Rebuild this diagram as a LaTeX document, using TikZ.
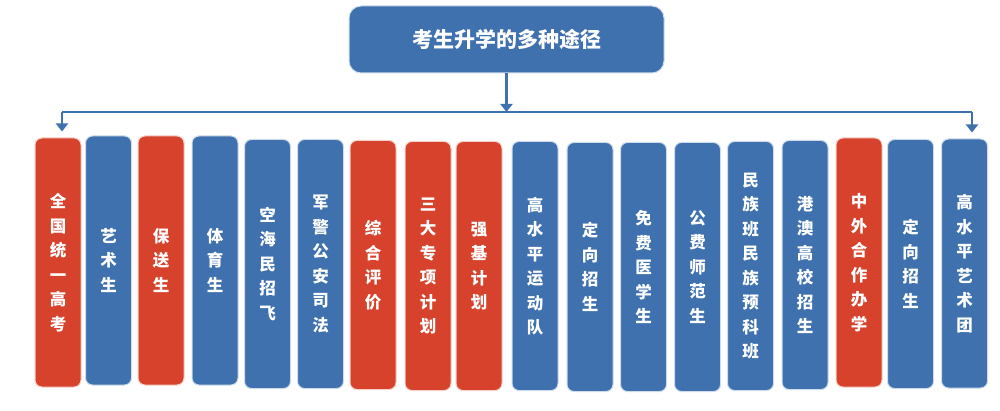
\documentclass[tikz,border=0pt]{standalone}
\usepackage{fontspec}
\newfontfamily\cjk{Noto Sans CJK SC}
\usetikzlibrary{arrows.meta}
\definecolor{rb}{RGB}{214,66,44}
\definecolor{bb}{RGB}{63,113,175}
\tikzset{
  col/.style={rounded corners=7pt, minimum width=46pt, minimum height=249pt, inner sep=0pt,
    text=white, font=\cjk\bfseries\fontsize{16.5}{24.5}\selectfont, align=center,
    draw=white!75!#1, line width=1pt, fill=#1},
  ttl/.style={rounded corners=12pt, minimum width=315pt, minimum height=67pt, inner sep=0pt,
    text=white, font=\cjk\bfseries\fontsize{21}{24}\selectfont,
    draw=white!75!bb, line width=1pt, fill=bb},
  conn/.style={draw=bb, line width=2.5pt},
  arr/.style={conn, -{Triangle[width=12pt,length=8pt]}}
}
\begin{document}
\begin{tikzpicture}[x=1pt,y=-1pt]
\useasboundingbox[fill=white] (0,0) rectangle (1000,411);
\node[ttl] (t) at (506.5,39.5) {考生升学的多种途径};
\node[col=rb] (c1) at (58,262.5) {全\\国\\统\\一\\高\\考};
\node[col=bb] (c2) at (108.5,260.5) {艺\\术\\生};
\node[col=rb] (c3) at (161,260.5) {保\\送\\生};
\node[col=bb] (c4) at (215,260.5) {体\\育\\生};
\node[col=bb] (c5) at (267.5,264) {空\\海\\民\\招\\飞};
\node[col=bb] (c6) at (320.5,264) {军\\警\\公\\安\\司\\法};
\node[col=rb] (c7) at (373,265) {综\\合\\评\\价};
\node[col=rb] (c8) at (428,266) {三\\大\\专\\项\\计\\划};
\node[col=rb] (c9) at (479,266) {强\\基\\计\\划};
\node[col=bb] (c10) at (535,266) {高\\水\\平\\运\\动\\队};
\node[col=bb] (c11) at (590,267) {定\\向\\招\\生};
\node[col=bb] (c12) at (643.5,267) {免\\费\\医\\学\\生};
\node[col=bb] (c13) at (697.5,267) {公\\费\\师\\范\\生};
\node[col=bb] (c14) at (750.5,266) {民\\族\\班\\民\\族\\预\\科\\班};
\node[col=bb] (c15) at (805,265) {港\\澳\\高\\校\\招\\生};
\node[col=rb] (c16) at (859,262.5) {中\\外\\合\\作\\办\\学};
\node[col=bb] (c17) at (910.5,264) {定\\向\\招\\生};
\node[col=bb] (c18) at (964.5,263.5) {高\\水\\平\\艺\\术\\团};
\coordinate (hl) at (62,112);
\coordinate (hr) at (972,112);
\draw[conn] (hl) -- (hr);
\draw[arr] (t.south) -- (t.south |- hl);
\draw[arr, shorten >=6pt] (hl) -- (hl |- c1.north);
\draw[arr, shorten >=6pt] (hr) -- (hr |- c18.north);
\end{tikzpicture}
\end{document}
